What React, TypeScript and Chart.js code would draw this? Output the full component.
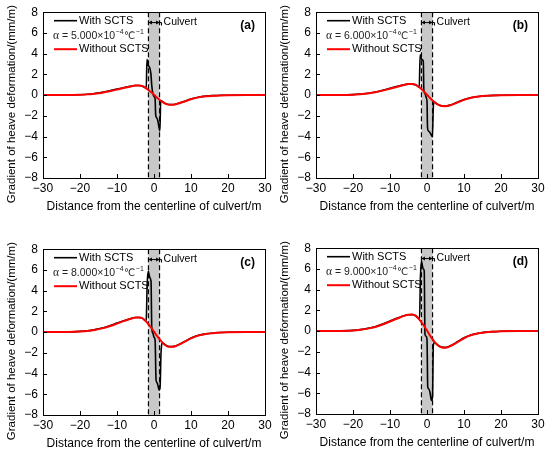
import React, { useEffect, useRef } from "react";
import { Chart, registerables } from "chart.js";

Chart.register(...registerables);

const FONT = "'Liberation Sans', Arial, 'DejaVu Sans', sans-serif";

const PANEL_LABELS = ["(a)", "(b)", "(c)", "(d)"];
const ALPHA_VALUES = ["5.000", "6.000", "8.000", "9.000"];
const CULVERT_EDGES = [-1.5, 1.5];
const X_TICKS = [-30, -20, -10, 0, 10, 20, 30];
const Y_TICKS = [-8, -6, -4, -2, 0, 2, 4, 6, 8];
const X_TITLE = "Distance from the centerline of culvert/m";
const Y_TITLE = "Gradient of heave deformation/(mm/m)";
const LEGEND_WITH = "With SCTS";
const LEGEND_WITHOUT = "Without SCTS";
const CULVERT_LABEL = "Culvert";

// Without SCTS (red)
const RED_X = [-30, -25, -20, -18, -16, -14, -12, -10, -8, -6, -5, -4, -3, -2, -1, 0, 1, 2, 3, 4, 5, 6, 8, 10, 12, 14, 16, 18, 20, 25, 30];
const RED_A = [0, 0, 0.04, 0.07, 0.14, 0.23, 0.37, 0.54, 0.71, 0.86, 0.92, 0.93, 0.86, 0.63, 0.35, 0.03, -0.31, -0.59, -0.81, -0.92, -0.93, -0.87, -0.65, -0.4, -0.22, -0.12, -0.07, -0.03, -0.01, 0, 0];
const RED_B = [0, 0.01, 0.04, 0.09, 0.16, 0.27, 0.43, 0.62, 0.81, 1.0, 1.06, 1.07, 0.98, 0.73, 0.41, 0.03, -0.35, -0.67, -0.93, -1.06, -1.07, -1.01, -0.75, -0.46, -0.26, -0.14, -0.07, -0.04, -0.02, 0, 0];
const RED_C = [0, 0.01, 0.06, 0.11, 0.21, 0.36, 0.57, 0.82, 1.08, 1.32, 1.41, 1.42, 1.31, 0.97, 0.54, 0.04, -0.47, -0.89, -1.24, -1.41, -1.42, -1.33, -0.99, -0.61, -0.34, -0.18, -0.1, -0.05, -0.02, 0, 0];
const RED_D = [0, 0.01, 0.06, 0.13, 0.24, 0.4, 0.64, 0.93, 1.22, 1.49, 1.58, 1.6, 1.47, 1.09, 0.61, 0.05, -0.53, -1.01, -1.39, -1.58, -1.6, -1.5, -1.12, -0.69, -0.38, -0.21, -0.11, -0.06, -0.02, 0, 0];

// With SCTS (black)
const BLACK_X_A = [-30, -25, -20, -18, -16, -14, -12, -10, -8, -6, -5, -4, -3, -2.4, -2.1, -1.9, -1.65, -1.3, -0.85, -0.6, -0.3, 0.05, 0.3, 0.45, 0.75, 1.05, 1.3, 1.6, 1.8, 2.05, 2.4, 3, 4, 5, 6, 8, 10, 12, 14, 16, 18, 20, 25, 30];
const BLACK_A = [0, 0, 0.04, 0.08, 0.16, 0.26, 0.41, 0.58, 0.74, 0.88, 0.93, 0.93, 0.84, 0.72, 0.64, 3.45, 2.9, 2.75, 2.1, 0.9, 0.15, -0.15, -0.35, -1.9, -2.2, -2.5, -3.0, -3.45, -0.65, -0.55, -0.66, -0.8, -0.9, -0.91, -0.85, -0.62, -0.37, -0.2, -0.1, -0.05, -0.02, -0.01, 0, 0];
const BLACK_X_B = [-30, -25, -20, -18, -16, -14, -12, -10, -8, -6, -5, -4, -3, -2.4, -2.1, -1.85, -1.6, -1.3, -1.0, -0.85, -0.55, -0.25, 0, 0.15, 0.5, 0.85, 1.15, 1.45, 1.75, 2.05, 2.4, 3, 4, 5, 6, 8, 10, 12, 14, 16, 18, 20, 25, 30];
const BLACK_B = [0, 0.01, 0.05, 0.1, 0.18, 0.3, 0.47, 0.66, 0.85, 1.01, 1.06, 1.06, 0.97, 0.82, 0.74, 3.9, 3.6, 3.4, 3.3, 0.45, 0.15, -0.2, -0.6, -3.2, -3.5, -3.65, -3.85, -4.0, -0.9, -0.66, -0.78, -0.92, -1.04, -1.05, -0.99, -0.72, -0.43, -0.24, -0.13, -0.07, -0.03, -0.01, 0, 0];
const BLACK_X_C = [-30, -25, -20, -18, -16, -14, -12, -10, -8, -6, -5, -4, -3, -2.4, -2.1, -1.85, -1.55, -1.3, -1.05, -0.8, -0.6, -0.3, 0, 0.3, 0.55, 0.85, 1.1, 1.4, 1.65, 1.9, 2.3, 3, 4, 5, 6, 8, 10, 12, 14, 16, 18, 20, 25, 30];
const BLACK_C = [0, 0.01, 0.07, 0.13, 0.24, 0.4, 0.62, 0.87, 1.12, 1.34, 1.41, 1.41, 1.3, 1.1, 1.2, 4.6, 5.9, 5.5, 5.2, 4.9, 0.4, -0.1, -0.5, -0.8, -4.6, -4.9, -5.2, -5.6, -5.3, -2.0, -1.05, -1.22, -1.39, -1.4, -1.31, -0.96, -0.57, -0.31, -0.17, -0.09, -0.04, -0.01, 0, 0];
const BLACK_X_D = [-30, -25, -20, -18, -16, -14, -12, -10, -8, -6, -5, -4, -3, -2.4, -2.0, -1.8, -1.5, -1.25, -1.0, -0.75, -0.55, -0.25, 0, 0.2, 0.55, 0.85, 1.2, 1.5, 1.7, 1.95, 2.4, 3, 4, 5, 6, 8, 10, 12, 14, 16, 18, 20, 25, 30];
const BLACK_D = [0, 0.01, 0.07, 0.14, 0.26, 0.43, 0.68, 0.97, 1.26, 1.51, 1.58, 1.59, 1.46, 1.25, 1.2, 4.9, 6.75, 6.3, 6.0, 5.8, -0.3, -0.5, -0.8, -5.4, -5.6, -6.0, -6.7, -6.3, -1.4, -1.1, -1.2, -1.37, -1.55, -1.57, -1.47, -1.08, -0.65, -0.36, -0.2, -0.1, -0.05, -0.02, 0, 0];

const PANELS = [
  { red: RED_A, bx: BLACK_X_A, by: BLACK_A, left: 0, top: 0 },
  { red: RED_B, bx: BLACK_X_B, by: BLACK_B, left: 273, top: 0 },
  { red: RED_C, bx: BLACK_X_C, by: BLACK_C, left: 0, top: 237 },
  { red: RED_D, bx: BLACK_X_D, by: BLACK_D, left: 273, top: 236 },
];

const CW = 275;
const CH = 218;

const pts = (xs: number[], ys: number[]) => xs.map((x, i) => ({ x, y: ys[i] }));
const fmt = (v: number) => (v < 0 ? "\u2212" + Math.abs(v) : String(v));

function makeDecor(idx: number) {
  return {
    id: "decor" + idx,
    beforeDatasetsDraw(chart: any) {
      const { ctx, chartArea: a, scales } = chart;
      const x0 = scales.x.getPixelForValue(CULVERT_EDGES[0]);
      const x1 = scales.x.getPixelForValue(CULVERT_EDGES[1]);
      ctx.save();
      ctx.fillStyle = "#c8c8c8";
      ctx.fillRect(x0, a.top, x1 - x0, a.bottom - a.top);
      ctx.strokeStyle = "#000";
      ctx.lineWidth = 1.2;
      ctx.setLineDash([5, 3]);
      for (const xp of [x0, x1]) {
        ctx.beginPath();
        ctx.moveTo(xp, a.top);
        ctx.lineTo(xp, a.bottom);
        ctx.stroke();
      }
      ctx.restore();
    },
    afterDraw(chart: any) {
      const { ctx, chartArea: a, scales } = chart;
      const sx = scales.x;
      const sy = scales.y;
      ctx.save();
      // frame
      ctx.strokeStyle = "#000";
      ctx.lineWidth = 1;
      ctx.setLineDash([]);
      ctx.strokeRect(Math.round(a.left) + 0.5, Math.round(a.top) + 0.5, Math.round(a.right - a.left), Math.round(a.bottom - a.top));
      // inward ticks
      ctx.beginPath();
      for (const t of X_TICKS) {
        const p = Math.round(sx.getPixelForValue(t)) + 0.5;
        ctx.moveTo(p, a.bottom);
        ctx.lineTo(p, a.bottom - 4);
      }
      for (const t of Y_TICKS) {
        const p = Math.round(sy.getPixelForValue(t)) + 0.5;
        ctx.moveTo(a.left, p);
        ctx.lineTo(a.left + 4, p);
      }
      ctx.stroke();

      // axis titles
      ctx.fillStyle = "#000";
      ctx.textAlign = "center";
      ctx.textBaseline = "middle";
      ctx.font = `12px ${FONT}`;
      ctx.fillText(X_TITLE, (a.left + a.right) / 2, a.bottom + 29);
      ctx.save();
      ctx.translate(12, (a.top + a.bottom) / 2 + 9);
      ctx.rotate(-Math.PI / 2);
      ctx.font = `11.5px ${FONT}`;
      ctx.fillText(Y_TITLE, 0, 0);
      ctx.restore();

      // legend
      const lx0 = a.left + 11;
      const lx1 = a.left + 34;
      const tx = a.left + 36;
      const yB = a.top + 8.5;
      const yAl = a.top + 24;
      const yR = a.top + 37;
      ctx.textAlign = "left";
      ctx.font = `11px ${FONT}`;
      ctx.strokeStyle = "#000";
      ctx.lineWidth = 1.6;
      ctx.beginPath();
      ctx.moveTo(lx0, yB);
      ctx.lineTo(lx1, yB);
      ctx.stroke();
      ctx.fillText(LEGEND_WITH, tx, yB);

      ctx.strokeStyle = "#ff0000";
      ctx.lineWidth = 2;
      ctx.beginPath();
      ctx.moveTo(lx0, yR);
      ctx.lineTo(lx1, yR);
      ctx.stroke();
      ctx.fillText(LEGEND_WITHOUT, tx, yR);

      // alpha line
      let ax = a.left + 10;
      ctx.fillStyle = "#222";
      ctx.font = `11.5px 'Liberation Serif', 'DejaVu Serif', serif`;
      ctx.fillText("\u03b1", ax, yAl);
      ax += ctx.measureText("\u03b1").width;
      ctx.font = `10.5px ${FONT}`;
      const main = " = " + ALPHA_VALUES[idx] + "\u00d710";
      ctx.fillText(main, ax, yAl);
      ax += ctx.measureText(main).width;
      ctx.font = `7px ${FONT}`;
      ctx.fillText("\u22124", ax + 0.5, yAl - 4);
      ax += ctx.measureText("\u22124").width + 1;
      ctx.font = `10px 'DejaVu Sans', ${FONT}`;
      ctx.fillText("\u2103", ax, yAl);
      ax += ctx.measureText("\u2103").width;
      ctx.font = `7px ${FONT}`;
      ctx.fillText("\u22121", ax + 0.5, yAl - 4);

      // culvert arrow
      const x0 = sx.getPixelForValue(CULVERT_EDGES[0]);
      const x1 = sx.getPixelForValue(CULVERT_EDGES[1]);
      const yA = sy.getPixelForValue(7);
      ctx.strokeStyle = "#000";
      ctx.fillStyle = "#000";
      ctx.lineWidth = 1;
      ctx.beginPath();
      ctx.moveTo(x0, yA);
      ctx.lineTo(x1 + 2, yA);
      ctx.moveTo(x1 + 2, yA);
      ctx.lineTo(x1 + 2, yA + 3);
      ctx.stroke();
      ctx.beginPath();
      ctx.moveTo(x0, yA);
      ctx.lineTo(x0 + 3.5, yA - 2);
      ctx.lineTo(x0 + 3.5, yA + 2);
      ctx.closePath();
      ctx.moveTo(x1, yA);
      ctx.lineTo(x1 - 3.5, yA - 2);
      ctx.lineTo(x1 - 3.5, yA + 2);
      ctx.closePath();
      ctx.fill();
      ctx.font = `10.5px ${FONT}`;
      ctx.textAlign = "left";
      ctx.fillText(CULVERT_LABEL, x1 + 4, yA);

      // panel label
      ctx.font = `bold 12px ${FONT}`;
      ctx.textAlign = "right";
      ctx.fillText(PANEL_LABELS[idx], a.right - 10, a.top + 13);
      ctx.restore();
    },
  };
}

function makeConfig(idx: number): any {
  const p = PANELS[idx];
  const tickFont = { family: FONT, size: 12 };
  return {
    type: "line",
    data: {
      datasets: [
        {
          label: LEGEND_WITHOUT,
          data: pts(RED_X, p.red),
          borderColor: "#ff0000",
          borderWidth: 2,
          pointRadius: 0,
          cubicInterpolationMode: "monotone",
          fill: false,
        },
        {
          label: LEGEND_WITH,
          data: pts(p.bx, p.by),
          borderColor: "#000000",
          borderWidth: 1.6,
          pointRadius: 0,
          cubicInterpolationMode: "monotone",
          fill: false,
        },
      ],
    },
    options: {
      animation: false,
      responsive: false,
      maintainAspectRatio: false,
      layout: { padding: { top: 9, right: 10, left: 0, bottom: 0 } },
      plugins: { legend: { display: false }, tooltip: { enabled: false } },
      scales: {
        x: {
          type: "linear",
          min: -30,
          max: 30,
          grid: { display: false, drawTicks: false },
          border: { display: false },
          ticks: { stepSize: 10, font: tickFont, color: "#000", padding: 3, maxRotation: 0, autoSkip: false, callback: (v: number) => fmt(v) },
          afterFit: (s: any) => {
            s.height = CH - 9 - 169;
          },
        },
        y: {
          type: "linear",
          min: -8,
          max: 8,
          grid: { display: false, drawTicks: false },
          border: { display: false },
          ticks: { stepSize: 2, font: tickFont, color: "#000", padding: 5, autoSkip: false, callback: (v: number) => fmt(v) },
          afterFit: (s: any) => {
            s.width = 43;
          },
        },
      },
    },
    plugins: [makeDecor(idx)],
  };
}

function Panel({ idx }: { idx: number }) {
  const ref = useRef<HTMLCanvasElement>(null);
  useEffect(() => {
    const chart = new Chart(ref.current as HTMLCanvasElement, makeConfig(idx));
    return () => chart.destroy();
  }, [idx]);
  const p = PANELS[idx];
  return (
    <canvas
      ref={ref}
      width={CW}
      height={CH}
      style={{ position: "absolute", left: p.left, top: p.top, width: CW, height: CH }}
    />
  );
}

export default function App() {
  return (
    <div style={{ position: "absolute", left: 0, top: 0, width: 550, height: 455, background: "#fff", overflow: "hidden" }}>
      {PANELS.map((_, i) => (
        <Panel key={i} idx={i} />
      ))}
    </div>
  );
}
